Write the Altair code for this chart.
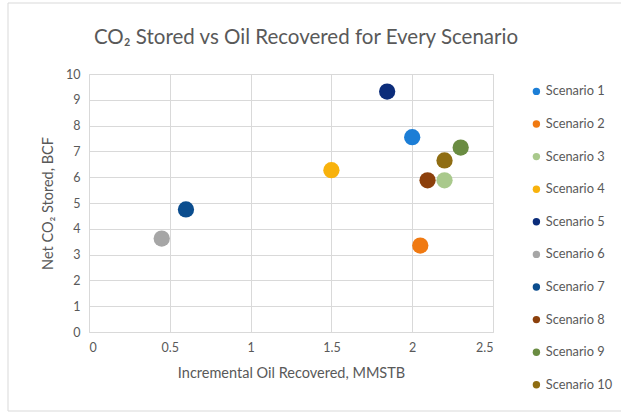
import altair as alt
import pandas as pd

scenarios = [f"Scenario {i}" for i in range(1, 11)]
oil_recovered = [2.00, 2.05, 2.20, 1.50, 1.845, 0.45, 0.60, 2.095, 2.30, 2.20]
co2_stored = [7.55, 3.35, 5.88, 6.27, 9.32, 3.62, 4.75, 5.88, 7.15, 6.65]
colors = ["#1C7ED6", "#F07A12", "#A9C98C", "#F8B20C", "#0B2C7A",
          "#A6A6A6", "#0B4D8E", "#8C400C", "#6A8C42", "#8F6D12"]

df = pd.DataFrame({
    "scenario": scenarios,
    "oil": oil_recovered,
    "co2": co2_stored,
})

FONT = "Lato"
GREY = "#595959"

# light outline around the whole chart
frame = alt.Chart(pd.DataFrame({"a": [0]})).mark_rect(
    fillOpacity=0, stroke="#D9D9D9", strokeWidth=1
).encode(
    x=alt.value(-81), x2=alt.value(540),
    y=alt.value(-71), y2=alt.value(337),
)

axis_style = dict(
    titleFontWeight="normal", titleFontSize=14.5, titleColor=GREY, titleFont=FONT,
    labelFontSize=12.5, labelColor=GREY, labelFont=FONT,
    gridColor="#D9D9D9", gridWidth=1, domain=False, ticks=False,
)

points = alt.Chart(df).mark_circle(size=265, opacity=1).encode(
    x=alt.X("oil:Q",
            scale=alt.Scale(domain=[0, 2.5], nice=False),
            axis=alt.Axis(values=[0, 0.5, 1, 1.5, 2, 2.5], format="~g",
                          title="Incremental Oil Recovered, MMSTB",
                          titlePadding=13, labelPadding=9, **axis_style)),
    y=alt.Y("co2:Q",
            scale=alt.Scale(domain=[0, 10], nice=False),
            axis=alt.Axis(values=list(range(0, 11)), title="Net CO\u2082 Stored, BCF",
                          titlePadding=10, labelPadding=9, **axis_style)),
    color=alt.Color("scenario:N",
                    scale=alt.Scale(domain=scenarios, range=colors),
                    legend=alt.Legend(title=None, orient="none",
                                      legendX=441, legendY=11,
                                      symbolSize=55, symbolType="circle",
                                      rowPadding=18.6, labelFontSize=12.8,
                                      labelColor=GREY, labelFont=FONT,
                                      labelOffset=3)),
)

chart = alt.layer(frame, points).properties(
    width=404,
    height=258,
    padding={"left": 89, "top": 74, "right": 128, "bottom": 87},
    autosize=alt.AutoSizeParams(type="none"),
    title=alt.TitleParams("CO\u2082 Stored vs Oil Recovered for Every Scenario",
                          fontSize=20.5, font=FONT, color=GREY, fontWeight="normal",
                          anchor="middle", offset=-46, dx=15),
).configure_view(
    stroke=None
).configure(background="white")

chart.save("out.html", embed_options={"renderer": "svg", "actions": False})
